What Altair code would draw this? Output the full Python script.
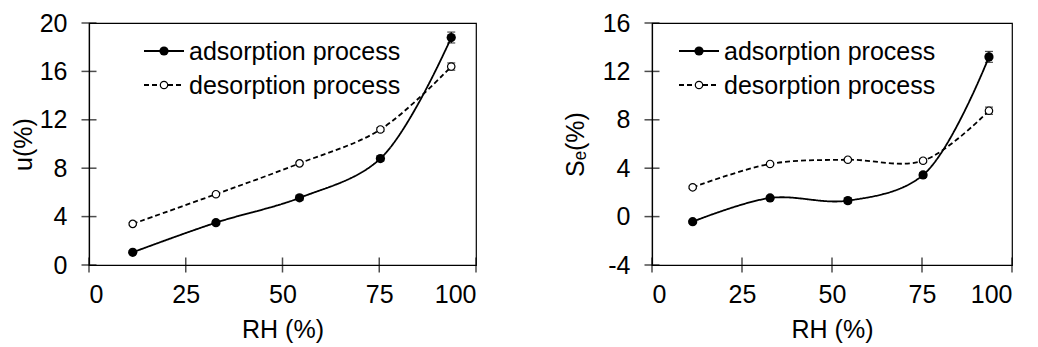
import altair as alt
import pandas as pd

RH = [11.3, 32.8, 54.4, 75.3, 93.6]
u_ads = [1.05, 3.5, 5.55, 8.8, 18.8]
u_ads_err = [0.1, 0.15, 0.2, 0.2, 0.45]
u_des = [3.4, 5.85, 8.4, 11.2, 16.4]
u_des_err = [0.1, 0.1, 0.1, 0.15, 0.3]
se_ads = [-0.42, 1.54, 1.32, 3.44, 13.2]
se_ads_err = [0.1, 0.15, 0.2, 0.2, 0.45]
se_des = [2.42, 4.35, 4.7, 4.62, 8.75]
se_des_err = [0.1, 0.1, 0.1, 0.15, 0.3]
series = ["adsorption process", "desorption process"]
x_ticks = [0, 25, 50, 75, 100]
u_ticks = [0, 4, 8, 12, 16, 20]
se_ticks = [-4, 0, 4, 8, 12, 16]

FONT = "Liberation Sans"
FS = 25
LFS = 25
H = 242


def panel(ads, ads_err, des, des_err, ydom, yticks, ytitle, w, h, leg_x0, leg_x1, leg_tx, ytp):
    rows = []
    for s, vals, errs in [(series[0], ads, ads_err), (series[1], des, des_err)]:
        for x, v, e in zip(RH, vals, errs):
            rows.append({"RH": x, "v": v, "lo": v - e, "hi": v + e, "s": s})
    df = pd.DataFrame(rows)
    xenc = alt.X("RH:Q", scale=alt.Scale(domain=[0, 100], nice=False),
                 axis=alt.Axis(values=x_ticks, title="RH (%)"))
    yenc = alt.Y("v:Q", scale=alt.Scale(domain=ydom, nice=False),
                 axis=alt.Axis(values=yticks, title=ytitle, titlePadding=ytp,
                               labelExpr="'' + datum.value"))
    base = alt.Chart(df)
    lines = base.mark_line(interpolate="catmull-rom", color="black", strokeWidth=1.8).encode(
        x=xenc, y=yenc,
        strokeDash=alt.StrokeDash("s:N", scale=alt.Scale(domain=series, range=[[1, 0], [5, 3]]), legend=None),
        detail="s:N",
    )
    # crossing tick marks on the axes
    xt = alt.Chart(pd.DataFrame({"tx": x_ticks, "lo": [ydom[0]] * len(x_ticks)})).mark_tick(
        color="black", orient="vertical", size=15, thickness=1.5).encode(
        x=alt.X("tx:Q"), y=alt.Y("lo:Q"))
    yt = alt.Chart(pd.DataFrame({"ty": yticks, "z": [0] * len(yticks)})).mark_tick(
        color="black", orient="horizontal", size=15, thickness=1.5).encode(
        y=alt.Y("ty:Q"), x=alt.X("z:Q"))

    err = base.mark_rule(color="black", strokeWidth=1.2).encode(x="RH:Q", y="lo:Q", y2="hi:Q")
    caps_hi = base.mark_tick(color="black", thickness=1.2, size=8, orient="horizontal").encode(x="RH:Q", y="hi:Q")
    caps_lo = base.mark_tick(color="black", thickness=1.2, size=8, orient="horizontal").encode(x="RH:Q", y="lo:Q")
    pts_a = base.transform_filter(alt.datum.s == series[0]).mark_point(
        filled=True, color="black", size=85, opacity=1, shape="circle").encode(x="RH:Q", y="v:Q")
    pts_d = base.transform_filter(alt.datum.s == series[1]).mark_point(
        shape="circle", size=55, fill="white", stroke="black", strokeWidth=1.2, opacity=1).encode(x="RH:Q", y="v:Q")

    # manual legend (pixel positions inside plot)
    leg = pd.DataFrame({
        "s": series,
        "py": [28, 62],
        "x0": [leg_x0, leg_x0],
        "x1": [leg_x1, leg_x1],
        "xc": [(leg_x0 + leg_x1) / 2] * 2,
        "tx": [leg_tx, leg_tx],
    })
    lb = alt.Chart(leg)
    leg_lines = lb.mark_rule(color="black", strokeWidth=1.8).encode(
        x=alt.X("x0:Q", scale=None), x2="x1:Q", y=alt.Y("py:Q", scale=None),
        strokeDash=alt.StrokeDash("s:N", scale=alt.Scale(domain=series, range=[[1, 0], [5, 3]]), legend=None),
    )
    leg_pa = lb.transform_filter(alt.datum.s == series[0]).mark_point(
        filled=True, color="black", size=85, opacity=1, shape="circle").encode(
        x=alt.X("xc:Q", scale=None), y=alt.Y("py:Q", scale=None))
    leg_pd = lb.transform_filter(alt.datum.s == series[1]).mark_point(
        shape="circle", size=55, fill="white", stroke="black", strokeWidth=1.2, opacity=1).encode(
        x=alt.X("xc:Q", scale=None), y=alt.Y("py:Q", scale=None))
    leg_t = lb.mark_text(align="left", baseline="middle", dy=1, font=FONT, fontSize=LFS, color="black").encode(
        x=alt.X("tx:Q", scale=None), y=alt.Y("py:Q", scale=None), text="s:N")

    return alt.layer(lines, err, caps_hi, caps_lo, pts_a, pts_d,
                     leg_lines, leg_pa, leg_pd, leg_t, xt, yt).properties(width=w, height=h)


left = panel(u_ads, u_ads_err, u_des, u_des_err, [0, 20], u_ticks, "u(%)", 387, H, 55, 95, 100, 3)
right = panel(se_ads, se_ads_err, se_des, se_des_err, [-4, 16], se_ticks, "Sₑ(%)", 360, H, 27, 67, 72, 14)

chart = alt.hconcat(left, right, spacing=84).properties(
    padding={"left": 2, "top": 2, "right": 0, "bottom": 0}
).configure_view(stroke="black", strokeWidth=1.2).configure_axis(
    grid=False, domainColor="black", domainWidth=1.2, ticks=False, tickSize=0,
    labelColor="black", titleColor="black", labelFont=FONT, titleFont=FONT,
    labelFontSize=FS, titleFontSize=FS, titleFontWeight="normal",
).configure_axisY(labelPadding=22).configure_axisX(labelPadding=17, titlePadding=10)

chart.save("out.html", embed_options={"renderer": "svg", "actions": False})
